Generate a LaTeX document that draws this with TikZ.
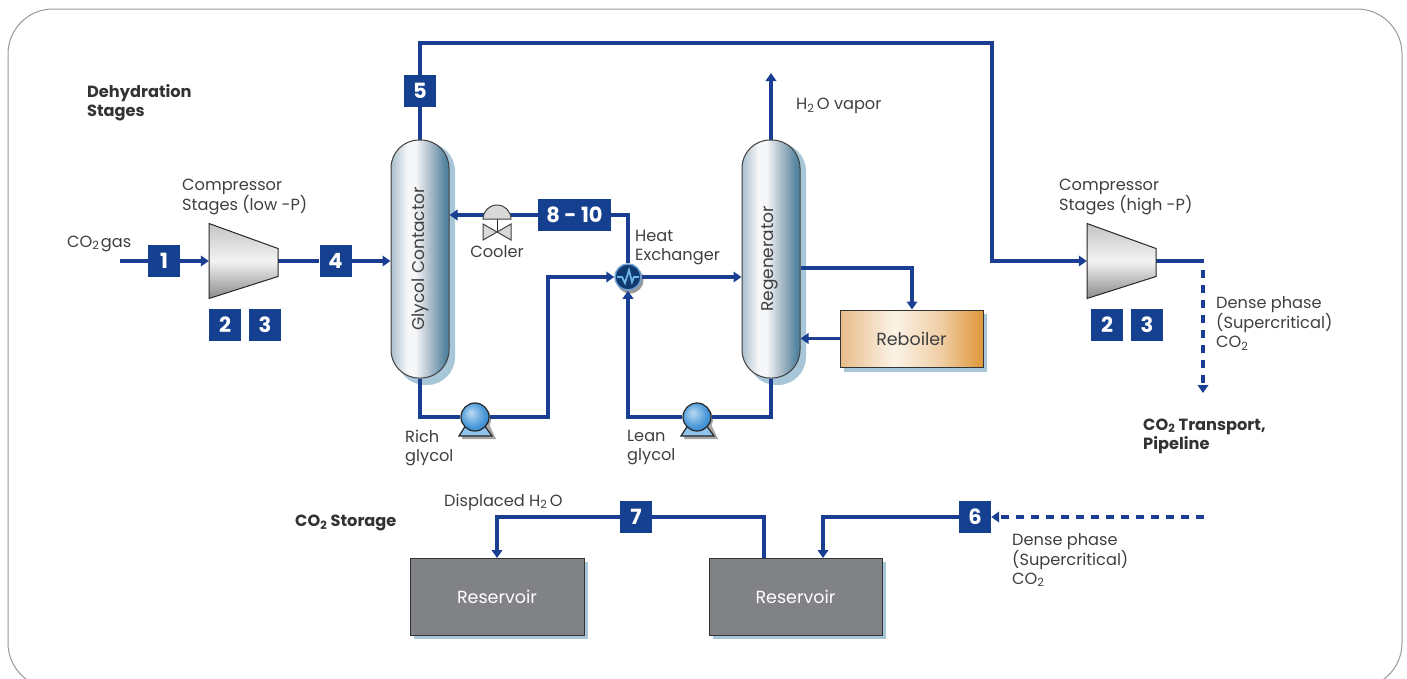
\documentclass[tikz,border=0pt]{standalone}
\usepackage{fontspec}
\setmainfont{Poppins}
\usetikzlibrary{arrows.meta,calc}
\definecolor{pipeblue}{HTML}{1A3F92}
\definecolor{boxblue}{HTML}{153F8F}
\definecolor{shadowblue}{HTML}{A7C6D8}
\definecolor{labelgray}{HTML}{3F3F3F}
\definecolor{resgray}{HTML}{808285}
\definecolor{vesA}{HTML}{A9BECB}
\definecolor{vesB}{HTML}{F6F7F9}
\definecolor{vesC}{HTML}{AEBFCB}
\definecolor{vesD}{HTML}{53839F}
\definecolor{rebA}{HTML}{E8BC8A}
\definecolor{rebB}{HTML}{FBF3E6}
\definecolor{rebC}{HTML}{F0CFA6}
\definecolor{rebD}{HTML}{E09A42}
\definecolor{pumpA}{HTML}{BBDAF4}
\definecolor{pumpB}{HTML}{4A98D8}
\definecolor{pumpC}{HTML}{0B63AC}
\definecolor{compA}{HTML}{C4C4C4}
\definecolor{compB}{HTML}{F3F3F3}
\definecolor{compC}{HTML}{8A8A8A}
\definecolor{pumpbaseblue}{HTML}{8FC3EC}
\definecolor{hexring}{HTML}{6F9FD0}
\definecolor{hexfill}{HTML}{0F3A70}
\definecolor{hexwave}{HTML}{6FB5EA}
\pgfdeclarehorizontalshading{vesselshade}{100bp}{
  color(0bp)=(vesA); color(25bp)=(vesA); color(39bp)=(vesB); color(46bp)=(vesB); color(58bp)=(vesC); color(72bp)=(vesD); color(100bp)=(vesD)}
\pgfdeclarehorizontalshading{reboilershade}{100bp}{
  color(0bp)=(rebA); color(25bp)=(rebA); color(44bp)=(rebB); color(60bp)=(rebC); color(74bp)=(rebD); color(100bp)=(rebD)}
\pgfdeclareradialshading{pumpshade}{\pgfpoint{-8bp}{8bp}}{
  color(0bp)=(pumpA); color(22bp)=(pumpB); color(45bp)=(pumpC); color(50bp)=(pumpC)}
\pgfdeclarelayer{shadowlayer}
\pgfdeclarelayer{pipelayer}
\pgfsetlayers{shadowlayer,pipelayer,main}
\newcommand{\subtwo}{\textsubscript{2}}
\tikzset{
  pipe/.style={draw=pipeblue,line width=3.3pt},
  tipstyle/.style={-{Triangle[length=8pt,width=10.5pt]}},
  pipearrow/.style={pipe,tipstyle},
  pipedash/.style={pipe,line width=3.6pt,dash pattern=on 8pt off 7pt,tipstyle},
  numbox/.style={fill=boxblue,text=white,minimum width=32pt,minimum height=32pt,inner sep=0pt,font=\fontsize{21}{23}\selectfont\bfseries},
  vessel/.style={draw=black!75,line width=1pt,rounded corners=28pt,minimum width=58pt,minimum height=238pt,inner sep=0pt,shading=vesselshade,shading angle=0},
  vesselshadow/.style={fill=shadowblue,rounded corners=28pt},
  vessellabel/.style={rotate=90,text=labelgray,font=\fontsize{17}{19}\selectfont},
  lbl/.style={anchor=west,align=left,inner sep=0pt,yshift=-2pt,text=labelgray,font=\fontsize{16.2}{19}\selectfont},
  blbl/.style={lbl,text=black!80,font=\fontsize{16.2}{19}\selectfont\bfseries},
  reservoir/.style={draw=black!80,line width=1pt,fill=resgray,text=white,minimum width=174pt,minimum height=77pt,inner sep=0pt,font=\fontsize{17.5}{20}\selectfont},
  compnode/.style={minimum width=69pt,minimum height=75pt,inner sep=0pt},
  pumpball/.style={circle,draw=black!85,line width=1.2pt,minimum size=28pt,inner sep=0pt,shading=pumpshade},
  hexnode/.style={circle,draw=hexring,fill=hexfill,line width=1.5pt,minimum size=26pt,inner sep=0pt},
  valvenode/.style={minimum width=28pt,minimum height=14pt,inner sep=0pt},
  pics/compressor/.style={code={
    \shade[draw=black!85,line width=1pt,top color=compA,bottom color=compC,middle color=compB]
      (-34.5,-37.5) -- (34.5,-12.5) -- (34.5,15.5) -- (-34.5,37.5) -- cycle;}},
  pics/pumpbase/.style={code={
    \fill[black!35] (-10,5) -- (-13,22) -- (21,22) -- (13,5) -- cycle;
    \draw[black!85,line width=1.2pt,fill=pumpbaseblue] (-9,8) -- (-16,19) -- (17,19) -- (9,8) -- cycle;}}
}
\begin{document}
\begin{tikzpicture}[x=1pt,y=-1pt]
\useasboundingbox (0,0) rectangle (1407,678);
\begin{scope}
  \clip (0,0) rectangle (1407,678);
  \draw[draw=black!40,line width=1pt,rounded corners=45pt] (8,9) rectangle (1402,688);
\end{scope}

% shadows
\begin{pgfonlayer}{shadowlayer}
  \path[vesselshadow] (397,143) rectangle (455,385);
  \path[vesselshadow] (748,143) rectangle (806,385);
  \fill[shadowblue] (844,314) rectangle (987,372);
  \fill[shadowblue] (414,562) rectangle (588,639);
  \fill[shadowblue] (713,562) rectangle (886,639);
  \fill[black!40] (630,280) circle (13.5);
  \fill[black!35] (477,419) circle (14);
  \fill[black!35] (699,419) circle (14);
\end{pgfonlayer}
\node[vessel] (contactor) at (420,259) {};
\node[vessellabel] (contactorlabel) at (420,259) {Glycol Contactor};
\node[vessel] (regen) at (771,259) {};
\node[vessellabel] (regenlabel) at (770,259) {Regenerator};
\node[draw=black!80,line width=1pt,minimum width=143pt,minimum height=57pt,inner sep=0pt,shading=reboilershade,shading angle=0,text=labelgray,font=\fontsize{17.5}{20}\selectfont] (reboiler) at (911.5,338.5) {Reboiler};

% compressors
\node[compnode] (comp1) at (243.5,261) {};
\node[compnode] (comp2) at (1121.5,261) {};
\pic at (243.5,261) {compressor};
\pic at (1121.5,261) {compressor};

% number boxes
\node[numbox] (b1) at (164,261) {1};
\node[numbox] (b2a) at (225,325) {2};
\node[numbox] (b3a) at (265,325) {3};
\node[numbox] (b4) at (335.5,261) {4};
\node[numbox] (b5) at (420,91) {5};
\node[numbox,minimum width=73pt] (b8) at (574.5,215) {8 - 10};
\node[numbox] (b2b) at (1107,325) {2};
\node[numbox] (b3b) at (1147,325) {3};
\node[numbox] (b7) at (636,517) {7};
\node[numbox] (b6) at (975,517) {6};

% heat exchanger
\node[hexnode] (hex) at (628,277) {};
\draw[draw=hexwave,line width=1.8pt] (617,277) -- (622,277) -- (625,283) -- (629,270) -- (632,282) -- (634,277) -- (639,277);

% pumps
\pic at (475,417) {pumpbase};
\pic at (697,417) {pumpbase};
\node[pumpball] (pump1) at (475,417) {};
\node[pumpball] (pump2) at (697,417) {};

% cooler valve
\node[valvenode] (cooler) at (497,212) {};
\draw[black!85,line width=1pt] (497,219) -- (497,232);
\draw[black!75,line width=1pt,fill=black!15] (483,219) arc[start angle=180,end angle=0,x radius=14,y radius=-14] -- cycle;
\draw[black!75,line width=1pt,fill=black!15] (483,224) -- (511,240) -- (511,224) -- (483,240) -- cycle;

% reservoirs
\node[reservoir] (res1) at (497,596.5) {Reservoir};
\node[reservoir,minimum width=173pt] (res2) at (795.5,596.5) {Reservoir};

% free ends
\coordinate (gasin) at (120,261);
\coordinate (ventout) at (771,73);
\coordinate (topright) at (992,43);
\coordinate (dpturn) at (1204,261);
\coordinate (dpstart) at (1203,270);
\coordinate (dpend) at (1203,393);
\coordinate (dpin) at (1204,517);
\coordinate (richturn) at (548,417);
\coordinate (regout) at (912,268);
\coordinate (b6turn) at (823,517);
\coordinate (b7turn) at (497,517);
\coordinate (res2turn) at (764,517);
\coordinate (res2out) at (764,558);
\coordinate (res1in) at (497,558);
\coordinate (res2in) at (823,558);

% connectors
\begin{pgfonlayer}{pipelayer}
  \draw[pipe] (gasin) -- (b1);
  \draw[pipearrow] (b1) -- (comp1.west);
  \draw[pipe] (comp1.east) -- (b4);
  \draw[pipearrow] (b4) -- (contactor.west |- b4);
  \draw[pipe] (contactor.north) -- (b5);
  \draw[pipearrow] (b5) -- (b5 |- topright) -- (topright) -- (topright |- comp2.west) -- (comp2.west);
  \draw[pipe] (comp2.east) -- (dpturn);
  \draw[pipedash] (dpstart) -- (dpend);
  \draw[pipearrow] (regen.north) -- (ventout);
  \draw[pipe] (b8) -| (hex.north);
  \draw[pipearrow] (b8) -- (contactor.east |- b8);
  \draw[pipe] (contactor.south) |- (pump1);
  \draw[pipearrow] (pump1) -- (richturn) -- (richturn |- hex) -- (hex.west);
  \draw[pipe] (regen.south) |- (pump2);
  \draw[pipearrow] (pump2) -| (hex.south);
  \draw[pipearrow] (hex.east) -- (regen.west |- hex);
  \draw[pipearrow] (regen.east |- regout) -- (regout) -- (regout |- reboiler.north);
  \draw[pipearrow] (reboiler.west) -- (regen.east |- reboiler.west);
  \draw[pipedash] (dpin) -- (b6.east);
  \draw[pipearrow] (b6) -- (b6turn) -- (res2in);
  \draw[pipe] (res2out) -- (res2turn) -- (b7);
  \draw[pipearrow] (b7) -- (b7turn) -- (res1in);
\end{pgfonlayer}

% labels
\node[blbl] (ldehyd) at (87,100.5) {Dehydration\\Stages};
\node[lbl] (lgas) at (67,241.5) {CO\subtwo\kern1.5pt gas};
\node[lbl] (lcomp1) at (182,195) {Compressor\\Stages (low -P)};
\node[lbl] (lcomp2) at (1059,195) {Compressor\\Stages (high -P)};
\node[lbl] (lvapor) at (796,104) {H\subtwo\kern2.5pt O vapor};
\node[lbl,anchor=center] (lcooler) at (497,250) {Cooler};
\node[lbl] (lheat) at (635,246) {Heat\\Exchanger};
\node[lbl] (lrich) at (405,446) {Rich\\glycol};
\node[lbl] (llean) at (627,446) {Lean\\glycol};
\node[lbl] (ldense1) at (1216,321.5) {Dense phase\\(Supercritical)\\CO\subtwo};
\node[blbl] (ltrans) at (1143,434) {CO\subtwo\ Transport,\\Pipeline};
\node[blbl] (lstore) at (295,521) {CO\subtwo\ Storage};
\node[lbl] (ldisp) at (444,500) {Displaced H\subtwo\kern2.5pt O};
\node[lbl] (ldense2) at (1012,558) {Dense phase\\(Supercritical)\\CO\subtwo};
\end{tikzpicture}
\end{document}
